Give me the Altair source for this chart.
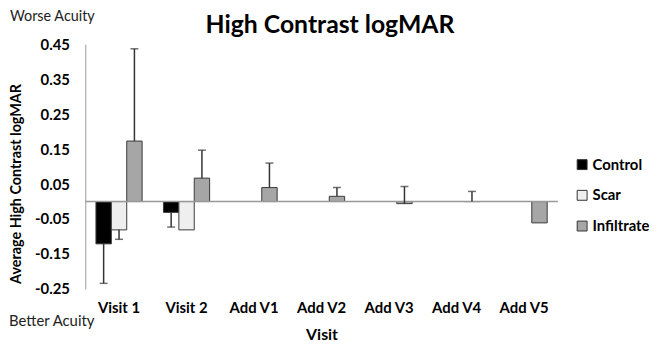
import altair as alt
import pandas as pd

visits = ["Visit 1", "Visit 2", "Add V1", "Add V2", "Add V3", "Add V4", "Add V5"]
series = ["Control", "Scar", "Infiltrate"]

control = [-0.121, -0.031, None, None, None, None, None]
scar = [-0.081, -0.081, None, None, None, None, None]
infiltrate = [0.173, 0.067, 0.040, 0.015, -0.006, 0.0, -0.061]

# signed error-bar lengths (direction as drawn)
control_err = [-0.113, -0.042, None, None, None, None, None]
scar_err = [-0.027, None, None, None, None, None, None]
infiltrate_err = [0.264, 0.080, 0.070, 0.025, 0.049, 0.029, None]

y_ticks = [-0.25, -0.15, -0.05, 0.05, 0.15, 0.25, 0.35, 0.45]

rows = []
for s, vals, errs in [("Control", control, control_err),
                      ("Scar", scar, scar_err),
                      ("Infiltrate", infiltrate, infiltrate_err)]:
    for v, val, e in zip(visits, vals, errs):
        if val is None:
            continue
        rows.append({"visit": v, "series": s, "value": val,
                     "end": (val + e) if e is not None else None})
df = pd.DataFrame(rows)
err_df = df.dropna(subset=["end"])

FONT = "Lato"

x_axis = alt.Axis(title=None, ticks=False, domain=False, labelAngle=0,
                  labelFont=FONT, labelFontSize=15, labelFontWeight="bold",
                  labelColor="#000", labelPadding=12, orient="bottom")
y_axis = alt.Axis(title=None, values=y_ticks, ticks=False, grid=False,
                  domainColor="#999", domainWidth=1, labelOverlap=False,
                  labelExpr="replace(format(datum.value, '.2f'), '\u2212', '-')",
                  labelFont=FONT, labelFontSize=15, labelFontWeight="bold",
                  labelColor="#000", labelPadding=16)
x_enc = alt.X("visit:N", sort=visits,
              scale=alt.Scale(domain=visits, paddingInner=0.316, paddingOuter=0.158),
              axis=x_axis)
xoff = alt.XOffset("series:N", sort=series,
                   scale=alt.Scale(domain=series, paddingInner=0, paddingOuter=0))
y_scale = alt.Scale(domain=[-0.25, 0.45], nice=False, zero=False)

bars = alt.Chart(df).mark_bar(stroke="#3a3a3a", strokeWidth=1).encode(
    x=x_enc,
    xOffset=xoff,
    y=alt.Y("value:Q", scale=y_scale, axis=y_axis),
    y2=alt.datum(0),
    color=alt.Color("series:N", sort=series,
                    scale=alt.Scale(domain=series, range=["#000000", "#efefef", "#a6a6a6"]),
                    legend=alt.Legend(title=None, orient="none", legendX=494, legendY=114,
                                      symbolType="square", symbolSize=100,
                                      symbolStrokeColor="#333", symbolStrokeWidth=1,
                                      labelFont=FONT, labelFontSize=15,
                                      labelFontWeight="bold", labelColor="#000",
                                      labelOffset=3, rowPadding=15)),
)

zero = alt.Chart(pd.DataFrame({"z": [0]})).mark_rule(color="#999", strokeWidth=1.5).encode(
    y=alt.Y("z:Q", scale=y_scale, axis=y_axis), x=alt.value(0), x2=alt.value(477))

err = alt.Chart(err_df).mark_rule(color="#333", strokeWidth=1.5).encode(
    x=x_enc, xOffset=xoff,
    y=alt.Y("value:Q", scale=y_scale, axis=y_axis), y2="end:Q")

caps = alt.Chart(err_df).mark_tick(color="#333", thickness=1.5, size=8).encode(
    x=x_enc, xOffset=xoff,
    y=alt.Y("end:Q", scale=y_scale, axis=y_axis))

title = alt.Chart(pd.DataFrame({"t": ["High Contrast logMAR"]})).mark_text(
    font=FONT, fontSize=25, fontWeight="bold", color="#000", align="center", baseline="middle"
).encode(x=alt.value(247), y=alt.value(-19), text="t:N")

worse = alt.Chart(pd.DataFrame({"t": ["Worse Acuity"]})).mark_text(
    font=FONT, fontSize=14.5, color="#222", align="left", baseline="middle"
).encode(x=alt.value(-76), y=alt.value(-27), text="t:N")

better = alt.Chart(pd.DataFrame({"t": ["Better Acuity"]})).mark_text(
    font=FONT, fontSize=15, color="#222", align="left", baseline="middle"
).encode(x=alt.value(-77), y=alt.value(279), text="t:N")

xtitle = alt.Chart(pd.DataFrame({"t": ["Visit"]})).mark_text(
    font=FONT, fontSize=16, fontWeight="bold", color="#000", align="center", baseline="middle"
).encode(x=alt.value(239), y=alt.value(294), text="t:N")

ytitle = alt.Chart(pd.DataFrame({"t": ["Average High Contrast logMAR"]})).mark_text(
    font=FONT, fontSize=14.5, fontWeight="bold", color="#000", align="center",
    baseline="middle", angle=270
).encode(x=alt.value(-69), y=alt.value(141), text="t:N")

chart = alt.layer(bars, zero, err, caps, title, worse, better, xtitle, ytitle).properties(
    width=477, height=247,
    autosize=alt.AutoSizeParams(type="none"),
    padding={"left": 78, "top": 35, "right": 92, "bottom": 55},
).configure_view(stroke=None).configure_axisY(labelOverlap=False)

chart.save("out.html", embed_options={"renderer": "svg", "actions": False})
